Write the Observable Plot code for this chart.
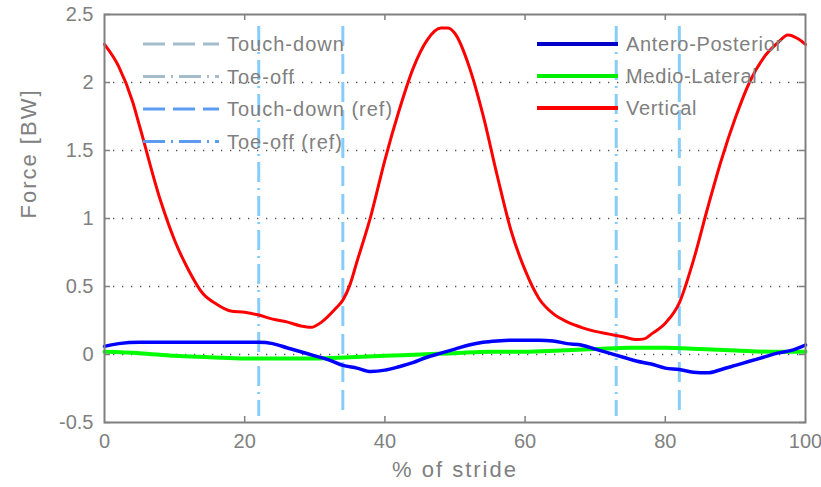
<!DOCTYPE html>
<html>
<head>
<meta charset="utf-8">
<script src="https://cdn.jsdelivr.net/npm/d3@7"></script>
<script src="https://cdn.jsdelivr.net/npm/@observablehq/plot@0.6"></script>
<style>
  html, body { margin: 0; padding: 0; background: #fff; }
  #wrap { position: relative; width: 821px; height: 487px; font-family: "Liberation Sans", Arial, sans-serif; }
  #legend { position: absolute; left: 0; top: 0; pointer-events: none; }
  .wide { letter-spacing: 2px; }
</style>
</head>
<body>
<div id="wrap"></div>
<script>
// % of stride samples
const strideRed = [0,2,4,5,8,10,12,14,16,18,20,22,24,26,28,29.5,31,33,34,35,36,38,40,42,44,46,48,49,50,52,54,56,58,60,62,64,66,68,70,72,74,76,77,78,80,82,84,86,88,90,92,94,96,97.5,99,100];
const vertical = [2.28,2.12,1.86,1.68,1.13,0.84,0.62,0.45,0.37,0.32,0.31,0.29,0.26,0.24,0.21,0.20,0.24,0.34,0.40,0.51,0.68,1.02,1.43,1.79,2.10,2.31,2.40,2.40,2.36,2.12,1.76,1.32,0.91,0.62,0.41,0.30,0.24,0.20,0.17,0.15,0.13,0.11,0.115,0.15,0.23,0.38,0.69,1.07,1.43,1.74,2.00,2.18,2.29,2.35,2.32,2.28];

const strideAP = [0,2,5,10,15,20,22,24,26,28,30,32,34,36,38,40,42,44,46,48,50,52,54,56,58,60,62,64,66,68,70,72,74,76,78,80,82,84,86,88,90,92,94,96,98,100];
const anteroPosterior = [0.06,0.08,0.09,0.09,0.09,0.09,0.09,0.08,0.05,0.02,-0.01,-0.04,-0.08,-0.10,-0.125,-0.115,-0.09,-0.06,-0.02,0.01,0.04,0.07,0.09,0.10,0.105,0.105,0.105,0.10,0.08,0.07,0.04,0.01,-0.02,-0.05,-0.07,-0.10,-0.11,-0.13,-0.135,-0.11,-0.08,-0.05,-0.02,0.01,0.03,0.07];

const strideML = [0,5,10,15,20,25,30,35,40,45,50,55,60,65,70,75,80,85,90,95,100];
const medioLateral = [0.02,0.01,-0.01,-0.02,-0.03,-0.03,-0.03,-0.02,-0.01,0.00,0.01,0.02,0.02,0.03,0.04,0.05,0.05,0.04,0.03,0.02,0.02];

const dashedEvents = [34, 82];
const dashDotEvents = [22, 73];

const xTickValues = [0,20,40,60,80,100];
const xInnerTicks = [20,40,60,80];
const yTickValues = [-0.5,0,0.5,1,1.5,2,2.5];
const yGrid = [0,0.5,1,1.5,2];

const xLabel = "% of stride";
const yLabel = "Force [BW]";
const leftLegend = ["Touch-down","Toe-off","Touch-down (ref)","Toe-off (ref)"];
const rightLegend = ["Antero-Posterior","Medio-Lateral","Vertical"];

const W = 821, H = 487, mL = 104, mR = 16, mT = 14, mB = 65;
const plotW = W - mL - mR, plotH = H - mT - mB;
const gray = "#808080";
const eventColor = "#88ccf8";
const font = "'Liberation Sans', Arial, sans-serif";

const toRows = (xs, ys) => xs.map((x, i) => ({x, y: ys[i]}));

const chart = Plot.plot({
  width: W, height: H,
  marginLeft: mL, marginRight: mR, marginTop: mT, marginBottom: mB,
  style: {fontFamily: font, fontSize: "20px", color: gray, background: "#fff"},
  x: {domain: [0, 100]},
  y: {domain: [-0.5, 2.5]},
  marks: [
    Plot.ruleY(yGrid, {stroke: "#555", strokeWidth: 1.3, strokeDasharray: "1.3,7.7"}),
    Plot.ruleX(dashDotEvents, {stroke: eventColor, strokeWidth: 3, strokeDasharray: "20,6,2,6", insetTop: 12, insetBottom: 6}),
    Plot.ruleX(dashedEvents, {stroke: eventColor, strokeWidth: 3, strokeDasharray: "20,8", insetTop: 12, insetBottom: 6}),
    Plot.line(toRows(strideML, medioLateral), {x: "x", y: "y", stroke: "#00ff00", strokeWidth: 4, curve: "monotone-x"}),
    Plot.line(toRows(strideAP, anteroPosterior), {x: "x", y: "y", stroke: "#0000ff", strokeWidth: 3.5, curve: "monotone-x"}),
    Plot.line(toRows(strideRed, vertical), {x: "x", y: "y", stroke: "#ff0000", strokeWidth: 3, curve: "monotone-x"}),
    Plot.tickX(xInnerTicks, {x: d => d, stroke: gray, strokeWidth: 1.5, insetTop: plotH - 6}),
    Plot.tickX(xInnerTicks, {x: d => d, stroke: gray, strokeWidth: 1.5, insetBottom: plotH - 6}),
    Plot.tickY(yTickValues, {y: d => d, stroke: gray, strokeWidth: 1.5, insetRight: plotW - 6}),
    Plot.tickY(yTickValues, {y: d => d, stroke: gray, strokeWidth: 1.5, insetLeft: plotW - 6}),
    Plot.frame({stroke: gray, strokeWidth: 2}),
    Plot.axisX({ticks: xTickValues, tickSize: 0, tickPadding: 11, label: null, fill: gray, fontSize: 20}),
    Plot.axisY({ticks: yTickValues, tickSize: 0, tickPadding: 11, tickFormat: d => String(d), label: null, fill: gray, fontSize: 20}),
    Plot.text([xLabel], {text: d => d, frameAnchor: "bottom", dy: 54, fill: gray, fontSize: 22, className: "wide"}),
    Plot.text([yLabel], {text: d => d, frameAnchor: "left", rotate: -90, dx: -76, fill: gray, fontSize: 22, className: "wide"})
  ]
});
document.getElementById("wrap").appendChild(chart);

// Legend overlay
const lg = d3.select("#wrap").append("svg").attr("id", "legend").attr("width", W).attr("height", H);
const leftStyles = [
  {stroke: "#a4bccb", dash: "22,8"},
  {stroke: "#a4bccb", dash: "22,6,2,6"},
  {stroke: "#5c9cf0", dash: "22,8"},
  {stroke: "#5c9cf0", dash: "22,6,2,6"}
];
const rightColors = ["#0000c8", "#00ee00", "#ff0000"];
const gL = lg.selectAll("g.l").data(leftLegend).join("g").attr("transform", (d, i) => `translate(143,${44 + i * 32.5})`);
gL.append("line").attr("x1", 0).attr("x2", 76).attr("stroke", (d, i) => leftStyles[i].stroke)
  .attr("stroke-width", 3).attr("stroke-dasharray", (d, i) => leftStyles[i].dash);
gL.append("text").attr("x", 84).attr("dy", "0.35em").text(d => d)
  .attr("fill", gray).attr("font-size", 20).attr("letter-spacing", 1).attr("font-family", font);
const gR = lg.selectAll("g.r").data(rightLegend).join("g").attr("transform", (d, i) => `translate(537,${44 + i * 32})`);
gR.append("line").attr("x1", 0).attr("x2", 81).attr("stroke", (d, i) => rightColors[i]).attr("stroke-width", 4);
gR.append("text").attr("x", 89).attr("dy", "0.35em").text(d => d)
  .attr("fill", gray).attr("font-size", 20).attr("letter-spacing", 0.7).attr("font-family", font);
</script>
</body>
</html>
